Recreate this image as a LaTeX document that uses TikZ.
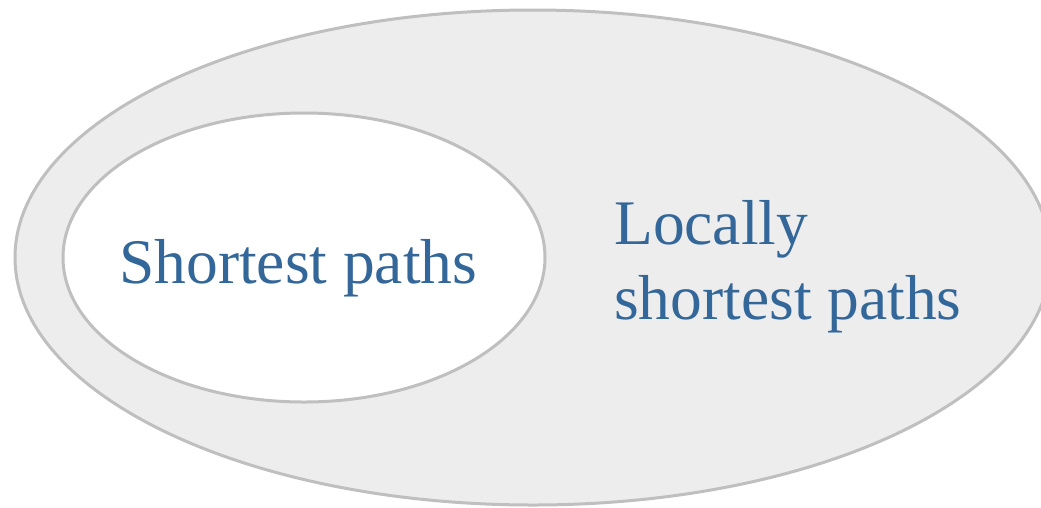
\documentclass[tikz,border=0pt]{standalone}
\usepackage{fontspec}
\setmainfont{Liberation Serif}
\definecolor{setfill}{RGB}{237,237,237}
\definecolor{setline}{RGB}{191,191,191}
\definecolor{labelblue}{RGB}{51,102,153}
\begin{document}
\begin{tikzpicture}[x=1pt,y=-1pt,
  setshape/.style={draw=setline,line width=3pt},
  setlabel/.style={text=labelblue,inner sep=0pt,font=\fontsize{63.5}{75}\selectfont}]
\useasboundingbox (0,0) rectangle (1041,507);
\begin{scope}
  \clip (0,0) rectangle (1041,507);
  % outer set: locally shortest paths
  \draw[setshape,fill=setfill] (533,257.5) ellipse [x radius=518,y radius=247.5];
  % inner set: shortest paths
  \draw[setshape,fill=white] (304,257.5) ellipse [x radius=241,y radius=144.5];
\end{scope}
\node[setlabel,anchor=base west] (sp) at (119,283.3) {Shortest paths};
\node[setlabel,anchor=base west] (lsp1) at (614,244.3) {Locally};
\node[setlabel,anchor=base west] (lsp2) at (614,319.3) {shortest paths};
\end{tikzpicture}
\end{document}
